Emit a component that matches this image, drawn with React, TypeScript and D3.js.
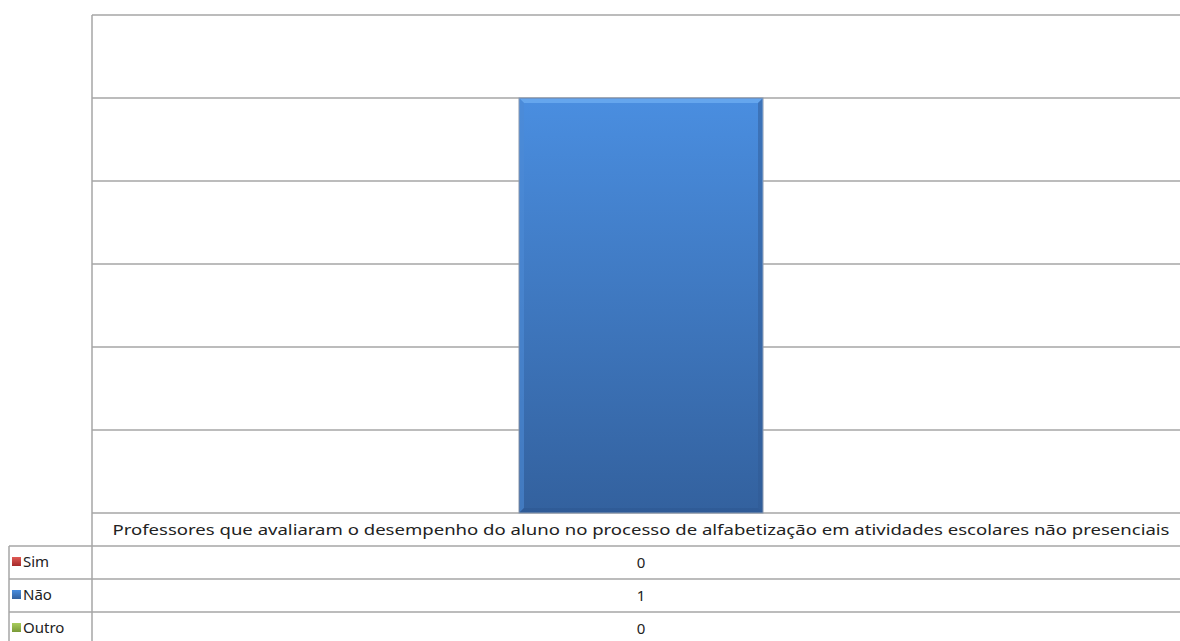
import React from "react";
import * as d3 from "d3";

const categories = ["Professores que avaliaram o desempenho do aluno no processo de alfabetização em atividades escolares não presenciais"];
const seriesNames = ["Sim", "Não", "Outro"];
const simValues = [0];
const naoValues = [1];
const outroValues = [0];
const yTicks = [0, 0.2, 0.4, 0.6, 0.8, 1.0, 1.2];

const W = 1180, H = 641;
const left = 92, right = 1190, top = 15, bottom = 513;

export default function App() {
  const seriesValues = [simValues, naoValues, outroValues];
  const colors = [
    { top: "#e05a55", bot: "#a52a2a" },
    { top: "#4a8ee0", bot: "#33619e" },
    { top: "#a8cc5c", bot: "#7a9a38" },
  ];
  const y = d3.scaleLinear().domain([0, 1.2]).range([bottom, top]);
  const x = d3.scaleBand().domain(categories).range([left, right]).paddingInner(0).paddingOuter(0);
  const xs = d3.scaleBand().domain(seriesNames).range([0, x.bandwidth()]).paddingInner(0).paddingOuter(0.75);
  const rowH = 33;
  const catRowBottom = bottom + rowH;
  const font = "'Noto Sans', 'Open Sans', sans-serif";
  const grid = "#a6a6a6";

  return (
    <svg width={W} height={H} style={{ position: "absolute", left: 0, top: 0, background: "#fff" }}>
      <defs>
        {colors.map((c, i) => (
          <linearGradient key={i} id={`g${i}`} x1="0" y1="0" x2="0" y2="1">
            <stop offset="0" stopColor={c.top} />
            <stop offset="1" stopColor={c.bot} />
          </linearGradient>
        ))}
      </defs>
      {yTicks.map((t) => (
        <line key={t} x1={left} x2={W} y1={y(t)} y2={y(t)} stroke={grid} strokeWidth={1.5} />
      ))}
      {categories.map((cat, ci) =>
        seriesNames.map((s, si) => {
          const v = seriesValues[si][ci];
          if (!v) return null;
          const bx = (x(cat) as number) + (xs(s) as number);
          const bw = xs.bandwidth();
          const by = y(v);
          const bh = y(0) - by;
          const b = 5;
          return (
            <g key={s}>
              <rect x={bx} y={by} width={bw} height={bh} fill={`url(#g${si})`} stroke="#8a98ad" strokeWidth={1} />
              <polygon points={`${bx + 1},${by + 1} ${bx + bw - 1},${by + 1} ${bx + bw - b},${by + b} ${bx + b},${by + b}`} fill="#6aaaf0" opacity={0.85} />
              <polygon points={`${bx + 1},${by + 1} ${bx + b},${by + b} ${bx + b},${by + bh - b} ${bx + 1},${by + bh - 1}`} fill="#4d8ad6" opacity={0.6} />
              <polygon points={`${bx + bw - 1},${by + 1} ${bx + bw - b},${by + b} ${bx + bw - b},${by + bh - b} ${bx + bw - 1},${by + bh - 1}`} fill="#2f5a94" opacity={0.5} />
              <polygon points={`${bx + 1},${by + bh - 1} ${bx + b},${by + bh - b} ${bx + bw - b},${by + bh - b} ${bx + bw - 1},${by + bh - 1}`} fill="#2c5690" opacity={0.5} />
            </g>
          );
        })
      )}
      <line x1={left} x2={left} y1={top} y2={H} stroke={grid} strokeWidth={1.5} />
      <line x1={left} x2={W} y1={catRowBottom} y2={catRowBottom} stroke={grid} strokeWidth={1.5} />
      {categories.map((cat) => (
        <text key={cat} x={(x(cat) as number) + x.bandwidth() / 2 - 0} y={bottom + 22} textAnchor="middle"
          fontFamily={font} fontSize={15} fill="#222" textLength={1057} lengthAdjust="spacingAndGlyphs">{cat}</text>
      ))}
      {seriesNames.map((s, si) => {
        const ry = catRowBottom + si * rowH;
        return (
          <g key={s}>
            <line x1={9} x2={W} y1={ry + rowH} y2={ry + rowH} stroke={grid} strokeWidth={1.5} />
            <rect x={12} y={ry + 11} width={9} height={9} fill={`url(#g${si})`} />
            <text x={23} y={ry + 21} fontFamily={font} fontSize={15} fill="#222">{s}</text>
            {categories.map((cat, ci) => (
              <text key={cat} x={(x(cat) as number) + x.bandwidth() / 2} y={ry + 22} textAnchor="middle"
                fontFamily={font} fontSize={15} fill="#222">{seriesValues[si][ci]}</text>
            ))}
          </g>
        );
      })}
      <line x1={9} x2={left} y1={catRowBottom} y2={catRowBottom} stroke={grid} strokeWidth={1.5} />
      <line x1={9} x2={9} y1={catRowBottom} y2={H} stroke={grid} strokeWidth={1.5} />
    </svg>
  );
}
